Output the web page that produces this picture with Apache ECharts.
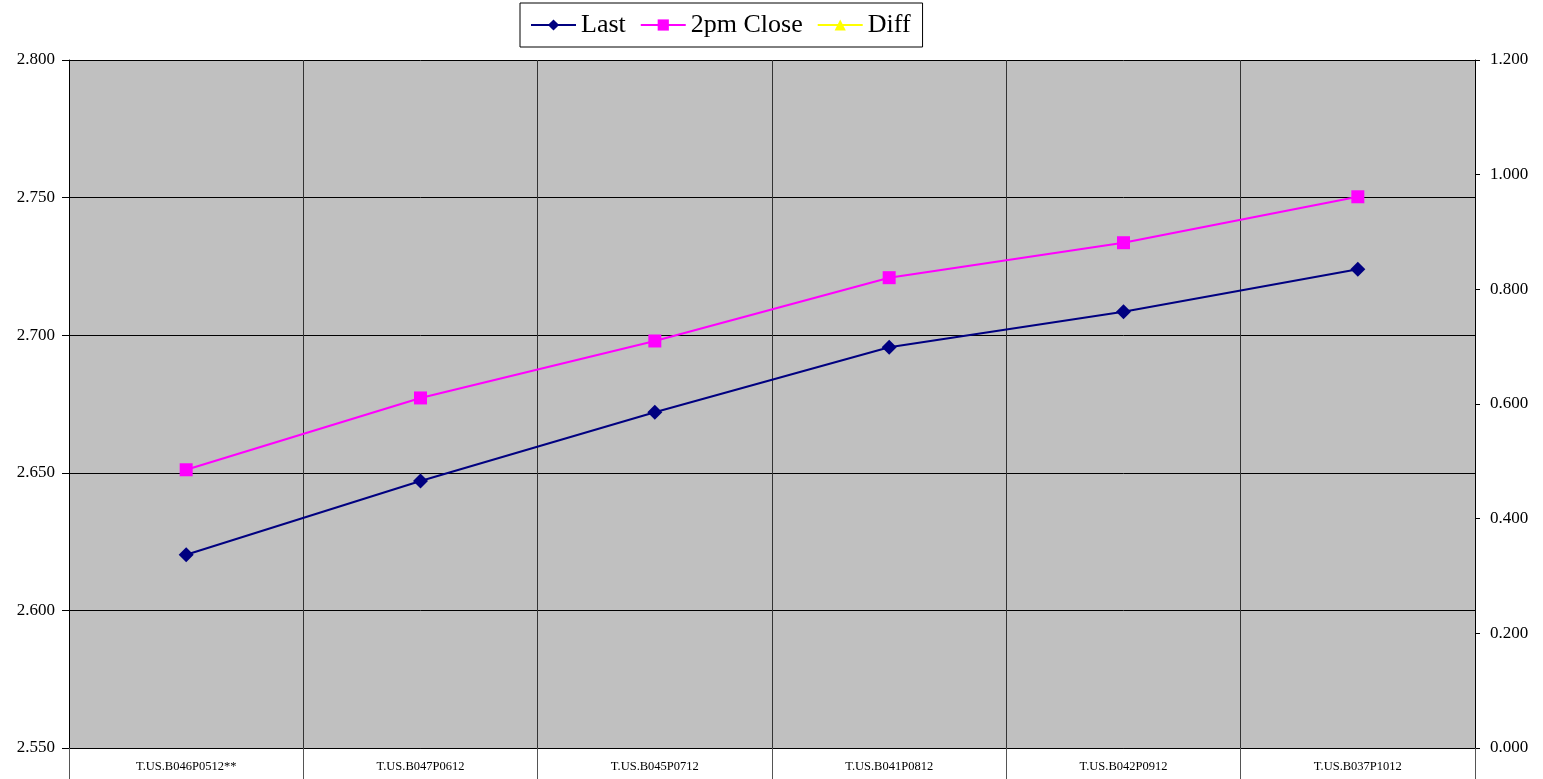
<!DOCTYPE html>
<html>
<head>
<meta charset="utf-8">
<script src="https://cdn.jsdelivr.net/npm/echarts@6/dist/echarts.min.js"></script>
<style>html,body{margin:0;padding:0;background:#fff;}#c{width:1543px;height:779px;}</style>
</head>
<body>
<div id="c"></div>
<script>
const categories = ['T.US.B046P0512**','T.US.B047P0612','T.US.B045P0712','T.US.B041P0812','T.US.B042P0912','T.US.B037P1012'];
const lastValues = [2.6202, 2.6470, 2.6720, 2.6956, 2.7085, 2.7240];
const closeValues = [2.6511, 2.6772, 2.6979, 2.7209, 2.7336, 2.7503];
const diffValues = [-0.0309, -0.0302, -0.0259, -0.0253, -0.0251, -0.0263];
const leftTicks = {min: 2.55, max: 2.8, interval: 0.05};
const rightTicks = {min: 0, max: 1.2, interval: 0.2};

const serif = 'Liberation Serif';
const chart = echarts.init(document.getElementById('c'));
chart.setOption({
  animation: false,
  textStyle: {fontFamily: serif},
  legend: {
    top: 3, left: 520,
    padding: [9, 12, 9, 10],
    backgroundColor: '#fff', borderColor: '#000', borderWidth: 1, borderRadius: 0,
    itemWidth: 45, itemHeight: 14, itemGap: 14,
    textStyle: {fontFamily: serif, fontSize: 26, color: '#000'},
    data: ['Last', '2pm Close', 'Diff']
  },
  grid: {left: 69, right: 68, top: 60, bottom: 31, show: true, backgroundColor: '#c0c0c0', borderWidth: 0},
  xAxis: {
    type: 'category', data: categories, boundaryGap: true,
    axisLine: {lineStyle: {color: '#000', width: 1}},
    axisTick: {show: true, length: 31, interval: 0, lineStyle: {color: '#555'}},
    axisLabel: {interval: 0, fontFamily: serif, fontSize: 12.5, color: '#000', margin: 12},
    splitLine: {show: true, interval: 0, lineStyle: {color: '#333', width: 1}}
  },
  yAxis: [
    {
      type: 'value', min: leftTicks.min, max: leftTicks.max, interval: leftTicks.interval,
      axisLine: {show: true, lineStyle: {color: '#000'}},
      axisTick: {show: true, length: 7, lineStyle: {color: '#000'}},
      axisLabel: {formatter: v => v.toFixed(3), fontFamily: serif, fontSize: 17, color: '#000', margin: 14},
      splitLine: {show: true, lineStyle: {color: '#000', width: 1}}
    },
    {
      type: 'value', min: rightTicks.min, max: rightTicks.max, interval: rightTicks.interval,
      position: 'right',
      axisLine: {show: true, lineStyle: {color: '#000'}},
      axisTick: {show: true, length: 5, lineStyle: {color: '#000'}},
      axisLabel: {formatter: v => v.toFixed(3), fontFamily: serif, fontSize: 17, color: '#000', margin: 15},
      splitLine: {show: false}
    }
  ],
  series: [
    {
      name: 'Last', type: 'line', yAxisIndex: 0, data: lastValues,
      symbol: 'diamond', symbolSize: 15,
      lineStyle: {color: '#000080', width: 2},
      itemStyle: {color: '#000080'}
    },
    {
      name: '2pm Close', type: 'line', yAxisIndex: 0, data: closeValues,
      symbol: 'rect', symbolSize: 13,
      lineStyle: {color: '#ff00ff', width: 2},
      itemStyle: {color: '#ff00ff'}
    },
    {
      name: 'Diff', type: 'line', yAxisIndex: 1, data: diffValues, clip: true,
      symbol: 'triangle', symbolSize: 13,
      lineStyle: {color: '#ffff00', width: 2},
      itemStyle: {color: '#ffff00'}
    }
  ]
});
</script>
</body>
</html>
